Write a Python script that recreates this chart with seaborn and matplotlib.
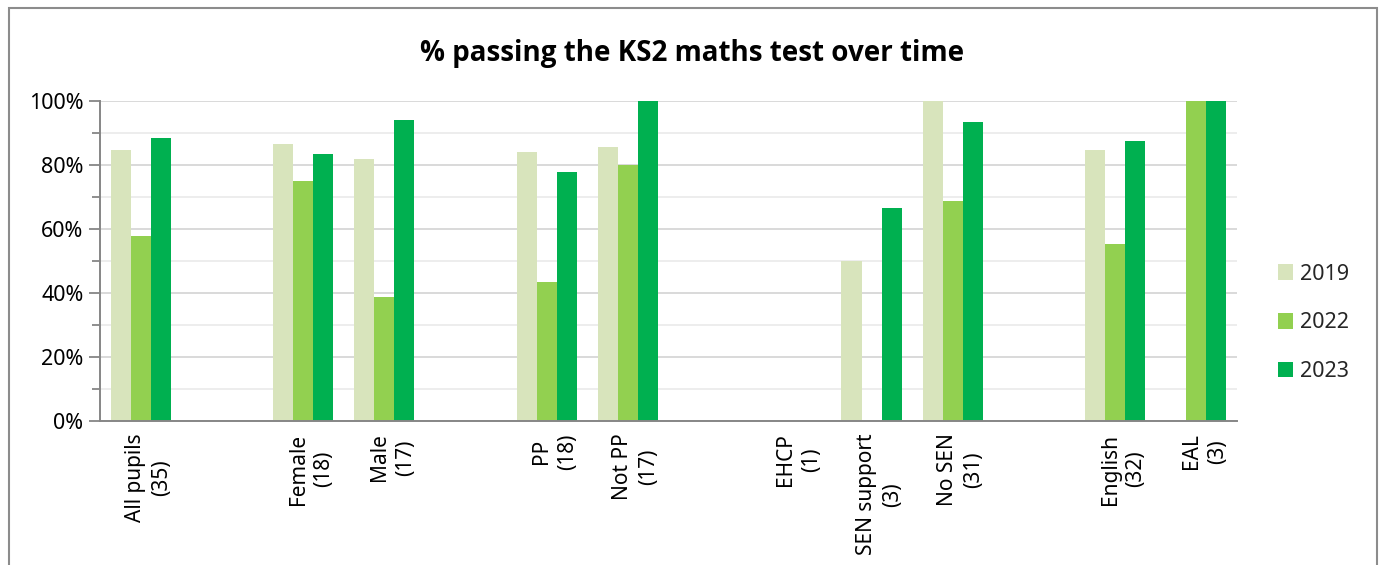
import numpy as np
import pandas as pd
import matplotlib
matplotlib.use("Agg")
import matplotlib.pyplot as plt
from matplotlib.patches import Rectangle
from matplotlib.ticker import MultipleLocator, FixedLocator, PercentFormatter
from matplotlib.transforms import ScaledTranslation
import seaborn as sns

# Pupil groups (blank slots separate the groups on the axis)
groups = ["All pupils", "gap1", "Female", "Male", "gap2", "PP", "Not PP", "gap3",
          "EHCP", "SEN support", "No SEN", "gap4", "English", "EAL"]
group_labels = ["All pupils\n(35)", "", "Female\n(18)", "Male\n(17)", "",
                "PP\n(18)", "Not PP\n(17)", "", "EHCP\n(1)", "SEN support\n(3)",
                "No SEN\n(31)", "", "English\n(32)", "EAL\n(3)"]
years = ["2019", "2022", "2023"]

nan = np.nan
pass_2019 = [84.6, nan, 86.6, 81.8, nan, 84.2, 85.7, nan, nan, 50.0, 100.0, nan, 84.6, nan]
pass_2022 = [57.8, nan, 75.0, 38.7, nan, 43.4, 80.0, nan, nan, nan, 68.6, nan, 55.4, 100.0]
pass_2023 = [88.5, nan, 83.3, 94.1, nan, 77.7, 100.0, nan, nan, 66.6, 93.5, nan, 87.4, 100.0]

colors = ["#D8E4BC", "#92D050", "#00B050"]

df = pd.DataFrame({
    "group": groups * 3,
    "year": [y for y in years for _ in groups],
    "pct": pass_2019 + pass_2022 + pass_2023,
})

sns.set_theme(style="white")
plt.rcParams["font.family"] = ["Noto Sans", "DejaVu Sans"]

fig = plt.figure(figsize=(13.83, 5.65), dpi=100)
W, H = 1383, 565
ax = fig.add_axes([100 / W, 1 - 421 / H, (1237 - 100) / W, (421 - 101) / H])

sns.barplot(data=df, x="group", y="pct", hue="year", order=groups, hue_order=years,
            palette=colors, width=0.74, gap=0, saturation=1, errorbar=None,
            ax=ax, legend=False, linewidth=0)

ax.set_ylim(0, 100)
ax.set_xlim(-0.5, len(groups) - 0.5)
ax.set_xlabel("")
ax.set_ylabel("")

# y axis: labels every 20%, minor ticks every 10%
ax.yaxis.set_major_locator(MultipleLocator(20))
ax.yaxis.set_minor_locator(MultipleLocator(10))
ax.yaxis.set_major_formatter(PercentFormatter(decimals=0))
ax.set_axisbelow(True)
ax.grid(axis="y", which="major", color="#D9D9D9", linewidth=1.4)
ax.grid(axis="y", which="minor", color="#EDEDED", linewidth=1.4)
ax.grid(axis="x", visible=False)

# x axis: labels centred on groups, tick marks on group boundaries
ax.xaxis.set_major_locator(FixedLocator(range(len(groups))))
ax.set_xticklabels(group_labels, rotation=90, ha="center", va="top",
                   multialignment="center", linespacing=1.3)
ax.xaxis.set_minor_locator(FixedLocator(np.arange(-0.5, len(groups), 1.0)))

axis_grey = "#868686"
ax.tick_params(axis="x", which="major", length=0, pad=9, labelsize=15, labelcolor="black")
ax.tick_params(axis="x", which="minor", length=6, width=1.3, color=axis_grey, direction="out")
ax.tick_params(axis="y", which="major", length=8, width=1.3, color=axis_grey,
               labelsize=15.5, labelcolor="black", pad=4, left=True)
ax.tick_params(axis="y", which="minor", length=6, width=1.3, color=axis_grey, left=True)

# nudge the category labels slightly right of the slot centres
shift = ScaledTranslation(8 / 100, 0, fig.dpi_scale_trans)
for tick in ax.xaxis.get_major_ticks():
    tick.label1.set_transform(tick.label1.get_transform() + shift)

for side in ["top", "right"]:
    ax.spines[side].set_visible(False)
for side in ["left", "bottom"]:
    ax.spines[side].set_color(axis_grey)
    ax.spines[side].set_linewidth(1.4)

fig.text(692 / W, 1 - 54 / H, "% passing the KS2 maths test over time",
         ha="center", va="center", fontsize=20, fontweight="bold", color="black",
         family=["Open Sans", "Lato", "DejaVu Sans"])

handles = [Rectangle((0, 0), 1, 1, facecolor=c, edgecolor="none") for c in colors]
fig.legend(handles, years, loc="center left", bbox_to_anchor=(1278 / W, 1 - 323 / H),
           frameon=False, fontsize=15.5, handlelength=0.7, handleheight=0.7,
           handletextpad=0.3, labelspacing=1.3, borderpad=0, borderaxespad=0)

# chart border
fig.patches.append(Rectangle((9 / W, -0.05), (1377 - 9) / W, 1.05 - 8 / H,
                             transform=fig.transFigure, fill=False,
                             edgecolor="#8C8C8C", linewidth=1.5))

fig.savefig("out.png", dpi=100, facecolor="white")
